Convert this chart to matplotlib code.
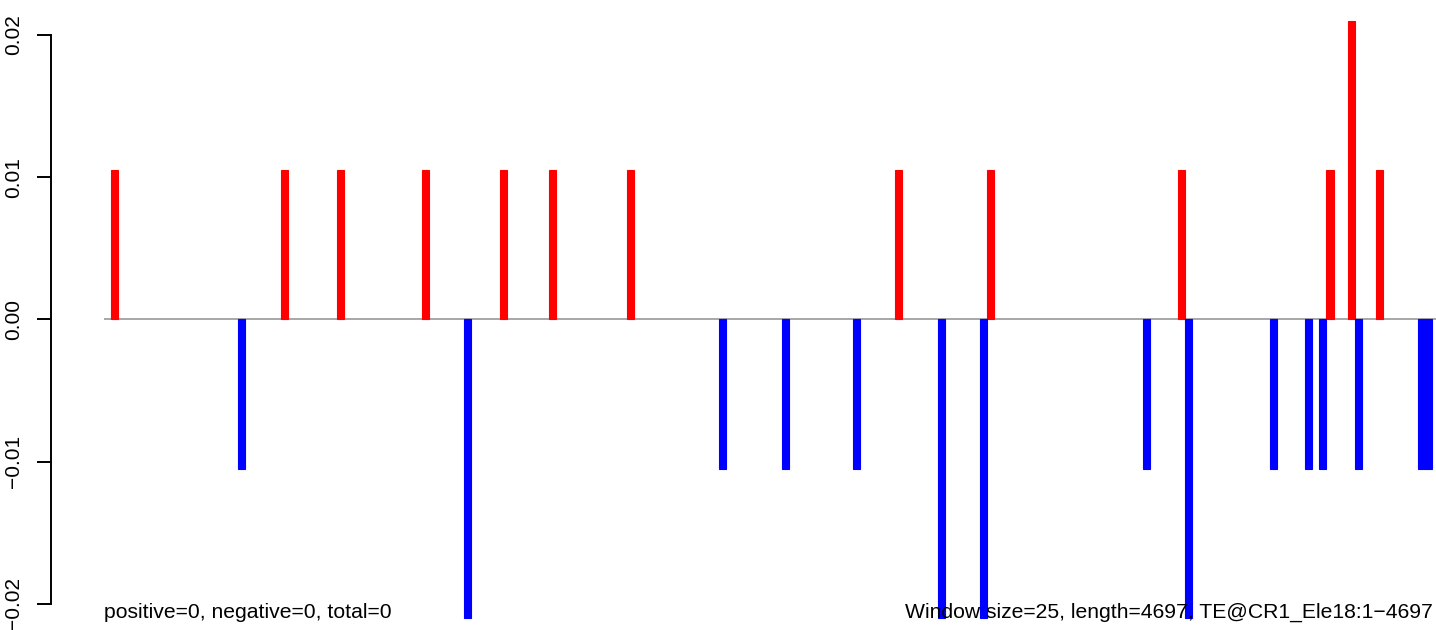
import matplotlib
matplotlib.use("Agg")
import matplotlib.pyplot as plt

plt.rcParams['font.family'] = ['Liberation Sans', 'DejaVu Sans']

# windows (0-based, 25 bp each) with a positive / negative signal
n_windows = 188
pos_windows = [1, 25, 33, 45, 56, 63, 74, 112, 125, 152, 173, 176, 180]
pos_values = [0.0105, 0.0105, 0.0105, 0.0105, 0.0105, 0.0105, 0.0105,
              0.0105, 0.0105, 0.0105, 0.0105, 0.021, 0.0105]
neg_windows = [19, 51, 87, 96, 106, 118, 124, 147, 153, 165, 170, 172, 177, 186, 187]
neg_values = [-0.0105, -0.021, -0.0105, -0.0105, -0.0105, -0.021, -0.021,
              -0.0105, -0.021, -0.0105, -0.0105, -0.0105, -0.0105, -0.0105, -0.0105]
yticks = [-0.02, -0.01, 0.0, 0.01, 0.02]
ytick_labels = ['\u22120.02', '\u22120.01', '0.00', '0.01', '0.02']
left_note = "positive=0, negative=0, total=0"
right_note = "Window size=25, length=4697, TE@CR1_Ele18:1\u22124697"

fig = plt.figure(figsize=(14.36, 6.3), dpi=100)
ax = fig.add_axes([50.7 / 1436, 0.0, 1 - 50.7 / 1436, 621 / 630])

ax.hlines(0, 0, 190, color='#a0a0a0', lw=1.3, zorder=1)
ax.bar(pos_windows, pos_values, width=1.0, align='edge', color='#ff0000',
       edgecolor='#ff0000', linewidth=0.8, zorder=2)
ax.bar(neg_windows, neg_values, width=1.0, align='edge', color='#0000ff',
       edgecolor='#0000ff', linewidth=0.8, zorder=2)

ax.set_xlim(-7.54, 188.5)
ax.set_ylim(-0.02184, 0.02183)

for s in ['top', 'right', 'bottom']:
    ax.spines[s].set_visible(False)
ax.spines['left'].set_bounds(-0.02, 0.02)
ax.spines['left'].set_linewidth(1.4)
ax.set_xticks([])
ax.set_yticks(yticks)
ax.set_yticklabels(ytick_labels, rotation=90, va='center', fontsize=15)
ax.tick_params(axis='y', length=10, width=1.4, pad=10)

ax.text(0, -0.0206, left_note, ha='left', va='center', fontsize=15.2)
ax.text(n_windows, -0.0206, right_note, ha='right', va='center', fontsize=15.2)

fig.savefig('out.png', dpi=100)
